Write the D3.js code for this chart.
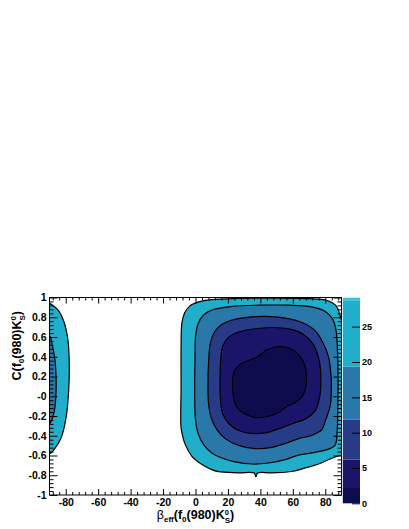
<!DOCTYPE html>
<html>
<head>
<meta charset="utf-8">
<script src="https://cdn.jsdelivr.net/npm/d3@7"></script>
<style>
  body { margin: 0; background: white; }
  svg { display: block; font-family: 'Liberation Sans', Arial, Helvetica, sans-serif; }
</style>
</head>
<body>
<div id="chart"></div>
<script>
// Scan of beta_eff vs C for f0(980)K0S, drawn as filled chi2 contours (ROOT style)

// Axis ranges and tick labels
const xDomain = [-90, 90];
const yDomain = [-1, 1];
const xTicks = [-80, -60, -40, -20, 0, 20, 40, 60, 80];
const xTickLabels = ['-80', '-60', '-40', '-20', '0', '20', '40', '60', '80'];
const yTicks = [-1, -0.8, -0.6, -0.4, -0.2, 0, 0.2, 0.4, 0.6, 0.8, 1];
const yTickLabels = ['-1', '-0.8', '-0.6', '-0.4', '-0.2', '-0', '0.2', '0.4', '0.6', '0.8', '1'];

// Colour scale (delta chi2) : contour levels and band colours
const zMax = 29.1;
const levels = [2.30, 6.18, 11.83, 19.33, 28.74];
const zTicks = [0, 5, 10, 15, 20, 25];
const bandColors = ['#0e0c4c', '#1b1569', '#283b86', '#2a77a9', '#20aecb', '#36c6de'];

// Contour lines, [beta, C]
const outerLeft = [[-93, 0.94], [-90, 0.94], [-87.5, 0.915], [-84.5, 0.87], [-81.2, 0.76], [-78.7, 0.58],
  [-77.8, 0.33], [-78.2, 0.05], [-79.8, -0.22], [-82.8, -0.42], [-87.2, -0.54], [-90, -0.585], [-93, -0.59]];
const innerLeft = [[-93, 0.61], [-90, 0.61], [-88.3, 0.52], [-86.6, 0.36], [-85.9, 0.15], [-86.2, -0.03],
  [-87.3, -0.17], [-90, -0.28], [-93, -0.29]];

const ring2874 = [[-9.0, -0.30], [-8.9, 0.10], [-8.9, 0.50], [-8.4, 0.74], [-6.8, 0.84], [-3.8, 0.91],
  [1.9, 0.955], [10, 0.978], [26, 0.99], [47, 0.993], [70, 0.988], [81, 0.97], [86.5, 0.92],
  [89.5, 0.80], [92, 0.62], [94, 0.3], [94, -0.4], [92, -0.59], [89, -0.60], [83, -0.635],
  [75.8, -0.686], [67.6, -0.726], [59.4, -0.762], [47, -0.775], [38.3, -0.778], [37.2, -0.815],
  [36.2, -0.778], [26.5, -0.775], [14.2, -0.764], [9.1, -0.736], [4, -0.692], [-2.2, -0.608],
  [-6.3, -0.49], [-8.5, -0.36]];
const ring1933 = [[-0.5, 0.07], [-0.3, 0.40], [0, 0.60], [1.5, 0.73], [5, 0.824], [11, 0.878],
  [22, 0.909], [39, 0.922], [57, 0.922], [71.7, 0.905], [80, 0.858], [84.6, 0.781], [86.7, 0.663],
  [87.5, 0.46], [87.9, 0.15], [87.7, -0.15], [87.3, -0.355], [86, -0.497], [81, -0.541],
  [71.7, -0.574], [62.5, -0.601], [55.3, -0.642], [45, -0.676], [34.8, -0.686], [24.5, -0.665],
  [16.3, -0.625], [10.1, -0.574], [5, -0.49], [1.5, -0.372], [-0.1, -0.22]];
const ring1183 = [[7.7, 0.07], [8.1, 0.36], [9.1, 0.53], [11.6, 0.646], [15.9, 0.723], [22, 0.77],
  [30.7, 0.797], [43, 0.808], [55.3, 0.791], [65.6, 0.747], [73.4, 0.669], [78.5, 0.545],
  [82, 0.40], [83.6, 0.20], [83.8, 0.10], [83, -0.10], [80.3, -0.237], [77.9, -0.338],
  [71.7, -0.396], [63.5, -0.429], [56.3, -0.473], [47.1, -0.517], [36.8, -0.531], [26.5, -0.497],
  [18.3, -0.429], [13.2, -0.338], [9.7, -0.22], [8.1, -0.086]];
const ring618 = [[15.1, 0.164], [15.5, 0.366], [16.7, 0.501], [21.2, 0.609], [29.4, 0.663],
  [38.7, 0.686], [47.9, 0.696], [58.2, 0.679], [66.4, 0.629], [72.5, 0.528], [76.2, 0.366],
  [77.3, 0.164], [76.6, -0.005], [74.0, -0.140], [68.4, -0.224], [60.2, -0.275], [52.0, -0.325],
  [43.8, -0.369], [35.6, -0.379], [27.4, -0.352], [20.8, -0.281], [16.7, -0.173], [15.3, -0.005]];
const ring230 = [[22.9, 0.164], [23.3, 0.012], [25.3, -0.106], [30.4, -0.180], [37.6, -0.217],
  [45.8, -0.200], [52.0, -0.157], [56.1, -0.106], [61.9, -0.059], [66.4, 0.012], [68.4, 0.164],
  [67.4, 0.315], [63.3, 0.427], [57.1, 0.491], [49.9, 0.501], [43.8, 0.467], [38.1, 0.400],
  [33.5, 0.366], [28.4, 0.332], [24.3, 0.265]];

function drawContourPlot() {
    const width = 409, height = 529;
    // frame of the plot and of the colour palette, in pixels
    const frame = {left: 49.5, top: 297.5, width: 292, height: 197.5};
    const pal = {left: 342.8, right: 360, top: 297.7, bottom: 503.3};

    let svg = d3.select('#chart').append('svg')
        .attr('width', width)
        .attr('height', height);

    let x = d3.scaleLinear().domain(xDomain).range([0, frame.width]);
    let y = d3.scaleLinear().domain(yDomain).range([frame.height, 0]);
    let z = d3.scaleLinear().domain([0, zMax]).range([pal.bottom, pal.top]);

    let g = svg.append('g').attr('transform', `translate(${frame.left},${frame.top})`);

    g.append('clipPath').attr('id', 'frame-clip')
        .append('rect')
        .attr('width', frame.width)
        .attr('height', frame.height);

    let line = d3.line()
        .curve(d3.curveCatmullRomClosed.alpha(0.5))
        .x(d => x(d[0]))
        .y(d => y(d[1]));

    // outermost level first, every inner level painted on top
    let contours = [
        {band: 4, rings: [outerLeft, ring2874]},
        {band: 3, rings: [innerLeft, ring1933]},
        {band: 2, rings: [ring1183]},
        {band: 1, rings: [ring618]},
        {band: 0, rings: [ring230]}
    ];

    let plot = g.append('g').attr('clip-path', 'url(#frame-clip)');
    contours.forEach(c => {
        plot.selectAll(null)
            .data(c.rings)
            .enter().append('path')
            .attr('d', d => line(d))
            .attr('fill', bandColors[c.band])
            .attr('stroke', '#000')
            .attr('stroke-width', 1.2)
            .attr('stroke-linejoin', 'round');
    });

    // Axes: ticks drawn inwards on all four sides, labels left and bottom

    let xMinor = d3.range(-88, 89, 4).filter(v => v % 20 !== 0);
    let yMinor = d3.range(-25, 26).map(v => v * 0.04).filter(v => Math.abs(Math.round(v * 5) - v * 5) > 1e-6);

    function styleAxis(sel) {
        sel.select('.domain').remove();
        sel.selectAll('line').attr('stroke', '#000');
        sel.selectAll('text')
            .attr('fill', '#000')
            .style('font-size', '10.5px')
            .style('font-weight', 'bold');
    }

    g.append('g').attr('transform', `translate(0,${frame.height})`)
        .call(d3.axisBottom(x).tickValues(xTicks).tickFormat((d, i) => xTickLabels[i]).tickSize(-6).tickPadding(3.5))
        .call(styleAxis);
    g.append('g').attr('transform', `translate(0,${frame.height})`)
        .call(d3.axisBottom(x).tickValues(xMinor).tickFormat('').tickSize(-3))
        .call(styleAxis);
    g.append('g')
        .call(d3.axisTop(x).tickValues(xTicks).tickFormat('').tickSize(-6))
        .call(styleAxis);
    g.append('g')
        .call(d3.axisTop(x).tickValues(xMinor).tickFormat('').tickSize(-3))
        .call(styleAxis);

    g.append('g')
        .call(d3.axisLeft(y).tickValues(yTicks).tickFormat((d, i) => yTickLabels[i]).tickSize(-8).tickPadding(3))
        .call(styleAxis);
    g.append('g')
        .call(d3.axisLeft(y).tickValues(yMinor).tickFormat('').tickSize(-4))
        .call(styleAxis);
    g.append('g').attr('transform', `translate(${frame.width},0)`)
        .call(d3.axisRight(y).tickValues(yTicks).tickFormat('').tickSize(-8))
        .call(styleAxis);
    g.append('g').attr('transform', `translate(${frame.width},0)`)
        .call(d3.axisRight(y).tickValues(yMinor).tickFormat('').tickSize(-4))
        .call(styleAxis);

    g.append('rect')
        .attr('width', frame.width)
        .attr('height', frame.height)
        .attr('fill', 'none')
        .attr('stroke', '#000')
        .attr('stroke-width', 1);

    // Axis titles

    let xTitle = svg.append('text')
        .attr('x', frame.left + frame.width / 2)
        .attr('y', 518.5)
        .attr('text-anchor', 'middle')
        .style('font-size', '12.5px')
        .style('font-weight', 'bold');
    xTitle.append('tspan').style('font-weight', 'normal').text('β');
    xTitle.append('tspan').attr('dy', 3.5).style('font-size', '8px').text('eff');
    xTitle.append('tspan').attr('dy', -3.5).text('(f');
    xTitle.append('tspan').attr('dy', 3.5).style('font-size', '8px').text('0');
    xTitle.append('tspan').attr('dy', -3.5).text('(980)K');
    xTitle.append('tspan').attr('dy', -4).style('font-size', '7.5px').text('0');
    xTitle.append('tspan').attr('dx', -4.2).attr('dy', 8).style('font-size', '8px').text('S');
    xTitle.append('tspan').attr('dy', -4).text(')');

    let yTitle = svg.append('text')
        .attr('transform', 'translate(20.5,311) rotate(-90)')
        .attr('text-anchor', 'end')
        .style('font-size', '12.5px')
        .style('font-weight', 'bold');
    yTitle.append('tspan').text('C(f');
    yTitle.append('tspan').attr('dy', 3.5).style('font-size', '8px').text('0');
    yTitle.append('tspan').attr('dy', -3.5).text('(980)K');
    yTitle.append('tspan').attr('dy', -5).style('font-size', '8px').text('0');
    yTitle.append('tspan').attr('dx', -4.5).attr('dy', 9).style('font-size', '8px').text('S');
    yTitle.append('tspan').attr('dy', -4).text(')');

    // Colour palette on the right

    let edges = [0].concat(levels, [zMax]);
    let bands = d3.range(edges.length - 1).map(i => ({lo: edges[i], hi: edges[i + 1], color: bandColors[i]}));

    svg.append('g').selectAll('rect')
        .data(bands)
        .enter().append('rect')
        .attr('x', pal.left)
        .attr('y', d => z(d.hi))
        .attr('width', pal.right - pal.left)
        .attr('height', d => z(d.lo) - z(d.hi))
        .attr('fill', d => d.color);

    svg.append('g').attr('transform', `translate(${pal.right},0)`)
        .call(d3.axisRight(z).tickValues(zTicks).tickFormat(d3.format('d')).tickSize(-8).tickPadding(2))
        .call(sel => {
            sel.select('.domain').remove();
            sel.selectAll('line').attr('stroke', '#000');
            sel.selectAll('text')
                .attr('fill', '#000')
                .style('font-size', '9px')
                .style('font-weight', 'bold');
        });
}

drawContourPlot();
</script>
</body>
</html>
